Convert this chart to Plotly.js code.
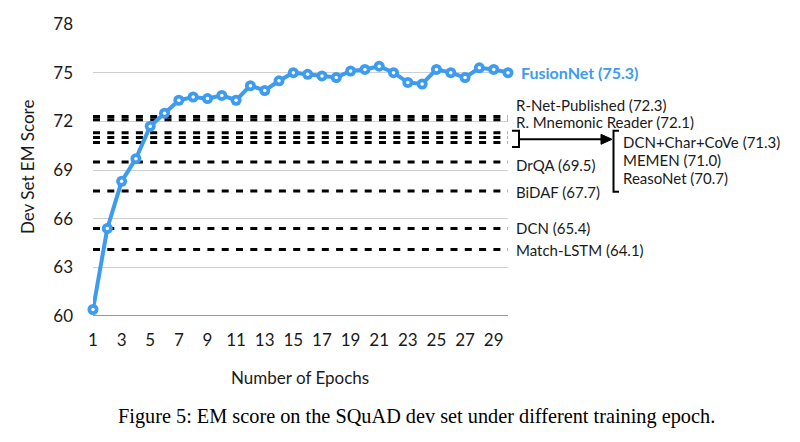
<!DOCTYPE html>
<html>
<head>
<meta charset="utf-8">
<script src="https://cdn.plot.ly/plotly-3.0.1.min.js"></script>
<style>html,body{margin:0;padding:0;background:#fff;}#chart{width:800px;height:442px;}</style>
</head>
<body>
<div id="chart"></div>
<script>
// ---- data ----
const epochs = [1,2,3,4,5,6,7,8,9,10,11,12,13,14,15,16,17,18,19,20,21,22,23,24,25,26,27,28,29,30];
const fusionNetScores = [60.4,65.4,68.3,69.7,71.7,72.5,73.3,73.5,73.4,73.6,73.3,74.2,73.9,74.5,75.0,74.9,74.8,74.7,75.1,75.2,75.4,75.0,74.4,74.3,75.2,75.0,74.7,75.3,75.2,75.0];
const fusionNetName = "FusionNet";
const fusionNetBest = 75.3;
const baselineNames = ["R-Net-Published","R. Mnemonic Reader","DCN+Char+CoVe","MEMEN","ReasoNet","DrQA","BiDAF","DCN","Match-LSTM"];
const baselineScores = [72.3,72.1,71.3,71.0,70.7,69.5,67.7,65.4,64.1];
const groupedBaselines = ["DCN+Char+CoVe","MEMEN","ReasoNet"];
const xTickVals = [1,3,5,7,9,11,13,15,17,19,21,23,25,27,29];
const yTickVals = [60,63,66,69,72,75,78];
const xTitle = "Number of Epochs";
const yTitle = "Dev Set EM Score";
const caption = "Figure 5: EM score on the SQuAD dev set under different training epoch.";

// ---- layout helpers ----
const M = {l:93, r:292, t:24, b:126};
const W = 800, H = 442;
const PW = W - M.l - M.r, PH = H - M.t - M.b;
const px = x => (x - M.l) / PW;           // pixel x -> paper
const py = y => (H - M.b - y) / PH;       // pixel y -> paper
const yMin = 60, yMax = 78;

const blue = "#3d9bf0";
const ink = "#1a1a1a";
const font = "Lato, 'Open Sans', sans-serif";

const traces = [];
baselineNames.forEach((n, i) => {
  traces.push({
    x: [epochs[0], epochs[epochs.length-1]],
    y: [baselineScores[i], baselineScores[i]],
    mode: "lines", type: "scatter", hoverinfo: "skip", showlegend: false,
    line: {color: "#000", width: 3, dash: "7px,7.3px"}
  });
});
traces.push({
  x: epochs, y: fusionNetScores, mode: "lines+markers", type: "scatter",
  showlegend: false, cliponaxis: false,
  line: {color: blue, width: 4},
  marker: {color: blue, size: 11}
});
traces.push({
  x: epochs, y: fusionNetScores, mode: "markers", type: "scatter",
  showlegend: false, cliponaxis: false, hoverinfo: "skip",
  marker: {color: "#fff", size: 3.5}
});

const annotations = [];
// FusionNet label
annotations.push({
  xref: "paper", yref: "y", x: 1, y: fusionNetScores[fusionNetScores.length-1],
  xanchor: "left", yanchor: "middle", xshift: 11, showarrow: false,
  text: "<b>" + fusionNetName + " (" + fusionNetBest.toFixed(1) + ")</b>",
  font: {family: font, size: 16, color: blue}
});
// baseline labels
const labelShift = {"R-Net-Published": 11, "R. Mnemonic Reader": -2.5, "DrQA": -3, "BiDAF": -1, "DCN": 0, "Match-LSTM": -1};
baselineNames.forEach((n, i) => {
  if (groupedBaselines.includes(n)) return;
  annotations.push({
    xref: "paper", yref: "y", x: 1, y: baselineScores[i],
    xanchor: "left", yanchor: "middle", xshift: 6, yshift: labelShift[n] || 0, showarrow: false,
    text: n + " (" + baselineScores[i].toFixed(1) + ")",
    font: {family: font, size: 15, color: ink}
  });
});
groupedBaselines.forEach((n, k) => {
  const i = baselineNames.indexOf(n);
  annotations.push({
    xref: "paper", yref: "paper", x: px(621), y: py(141.7 + k * 18.3),
    xanchor: "left", yanchor: "middle", showarrow: false,
    text: n + " (" + baselineScores[i].toFixed(1) + ")",
    font: {family: font, size: 15, color: ink}
  });
});
// axis titles and caption
annotations.push({
  xref: "paper", yref: "paper", x: px(27), y: py(167), textangle: -90,
  xanchor: "center", yanchor: "middle", showarrow: false, text: yTitle,
  font: {family: font, size: 17, color: ink}
});
annotations.push({
  xref: "paper", yref: "paper", x: px(300), y: py(377),
  xanchor: "center", yanchor: "middle", showarrow: false, text: xTitle,
  font: {family: font, size: 17, color: ink}
});
annotations.push({
  xref: "paper", yref: "paper", x: px(416), y: py(416),
  xanchor: "center", yanchor: "middle", showarrow: false, text: caption,
  font: {family: "'Liberation Serif', 'Times New Roman', serif", size: 20.3, color: "#000"}
});

const shapes = [];
const bl = {color: "#000", width: 2};
// small bracket around grouped lines
shapes.push({type: "path", xref: "paper", yref: "paper",
  path: `M ${px(512)} ${py(130.7)} L ${px(519)} ${py(130.7)} L ${px(519)} ${py(147)} L ${px(512)} ${py(147)}`,
  line: bl});
// arrow shaft
shapes.push({type: "line", xref: "paper", yref: "paper",
  x0: px(519), y0: py(139.3), x1: px(603), y1: py(139.3), line: bl});
// arrow head
shapes.push({type: "path", xref: "paper", yref: "paper",
  path: `M ${px(601)} ${py(134.3)} L ${px(612)} ${py(139.3)} L ${px(601)} ${py(144.3)} Z`,
  fillcolor: "#000", line: {color: "#000", width: 1}});
// big bracket
shapes.push({type: "path", xref: "paper", yref: "paper",
  path: `M ${px(619)} ${py(130.7)} L ${px(613.5)} ${py(130.7)} L ${px(613.5)} ${py(191.7)} L ${px(619)} ${py(191.7)}`,
  line: bl});

const layout = {
  width: W, height: H,
  margin: {l: M.l, r: M.r, t: M.t, b: M.b, pad: 0},
  paper_bgcolor: "#fff", plot_bgcolor: "#fff",
  showlegend: false,
  xaxis: {
    range: [1, 30], tickvals: xTickVals, ticktext: xTickVals.map(String),
    showgrid: false, zeroline: false, showline: false, ticks: "",
    ticklabelstandoff: 12,
    tickfont: {family: font, size: 17, color: ink}
  },
  yaxis: {
    range: [yMin, yMax], tickvals: yTickVals, ticktext: yTickVals.map(String),
    showgrid: true, gridcolor: "#cfcfcf", gridwidth: 1,
    zeroline: false, showline: false, ticks: "",
    ticklabelstandoff: 19,
    tickfont: {family: font, size: 17, color: ink}
  },
  annotations: annotations,
  shapes: shapes.concat([{type: "line", xref: "paper", yref: "y", x0: 0, x1: 1, y0: yMin, y1: yMin,
    line: {color: "#333", width: 1.2}, layer: "below"}])
};

Plotly.newPlot("chart", traces, layout, {displayModeBar: false, staticPlot: true});
</script>
</body>
</html>
